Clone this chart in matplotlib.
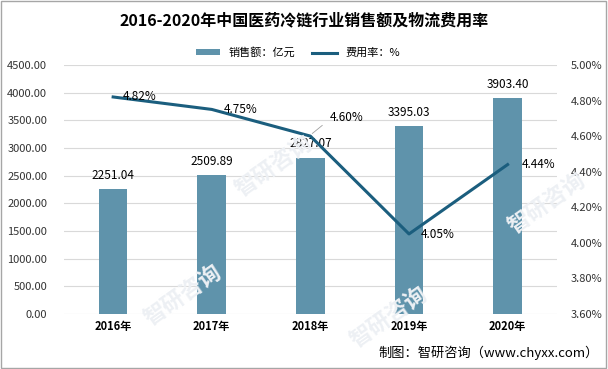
import matplotlib
matplotlib.use("Agg")
import matplotlib.pyplot as plt
from matplotlib.ticker import FuncFormatter

plt.rcParams['font.family'] = ['Noto Sans CJK SC', 'DejaVu Sans']

# datos
years = ['2016年', '2017年', '2018年', '2019年', '2020年']
sales = [2251.04, 2509.89, 2827.07, 3395.03, 3903.40]
rate = [4.82, 4.75, 4.60, 4.05, 4.44]

bar_color = '#5f93ab'
line_color = '#1b5e7e'

fig = plt.figure(figsize=(6.08, 3.69), dpi=100, facecolor='w')

# marcas de agua (tenues)
for (wx, wy) in [(0.30, 0.20), (0.45, 0.55), (0.90, 0.45), (0.64, 0.14)]:
    fig.text(wx, wy, '智研咨询', rotation=35, fontsize=16, fontweight='bold',
             color='#edf0f4', ha='center', va='center', zorder=0)

ax = fig.add_axes([0.105, 0.149, 0.811, 0.675])
ax.patch.set_alpha(0)
ax2 = ax.twinx()

x = list(range(len(years)))
ax.bar(x, sales, width=0.29, color=bar_color, label='销售额：亿元', zorder=2)
ax2.plot(x, rate, color=line_color, lw=2.2, label='费用率：%', zorder=3)

ax.set_xlim(-0.5, 4.5)
ax.set_ylim(0, 4500)
ax.set_yticks(range(0, 4501, 500))
ax.yaxis.set_major_formatter(FuncFormatter(lambda v, p: '%.2f' % v))
ax2.set_ylim(3.6, 5.0)
ax2.set_yticks([3.6, 3.8, 4.0, 4.2, 4.4, 4.6, 4.8, 5.0])
ax2.yaxis.set_major_formatter(FuncFormatter(lambda v, p: '%.2f%%' % v))

ax.grid(axis='y', color='#d9d9d9', lw=0.8, zorder=0)
ax.set_axisbelow(True)
ax.set_xticks(x)
ax.set_xticklabels(years, fontsize=8, fontweight='bold')
for a in (ax, ax2):
    for s in a.spines.values():
        s.set_visible(False)
    a.tick_params(length=0, labelsize=8, colors='#333333')
ax.tick_params(axis='y', pad=12)
ax2.tick_params(axis='y', pad=10)
ax.tick_params(axis='x', pad=4, colors='black')

# etiquetas barras
for i, v in enumerate(sales):
    ax.text(i, v + 130, '%.2f' % v, ha='center', va='bottom', fontsize=8.5)

# etiquetas linea
offs = [(0.1, 0.0), (0.12, 0.0), (0.2, 0.105), (0.12, -0.005), (0.14, 0.0)]
for i, v in enumerate(rate):
    dx, dy = offs[i]
    ax2.text(i + dx, v + dy, '%.2f%%' % v, ha='left', va='center', fontsize=8.5)
# linea guia 4.60%
ax2.plot([2.02, 2.12], [4.615, 4.66], color='#a0a0a0', lw=0.6, zorder=2)

fig.text(0.5, 0.945, '2016-2020年中国医药冷链行业销售额及物流费用率', ha='center', va='center',
         fontsize=11.5, fontweight='bold')

h1, l1 = ax.get_legend_handles_labels()
h2, l2 = ax2.get_legend_handles_labels()
fig.legend(h1 + h2, l1 + l2, loc='center', bbox_to_anchor=(0.49, 0.857), ncol=2,
           frameon=False, fontsize=8, handlelength=2.2, handleheight=0.5, columnspacing=1.5)

fig.text(0.985, 0.045, '制图：智研咨询（www.chyxx.com）', ha='right', va='center', fontsize=9.5)

border = plt.Rectangle((0.002, 0.003), 0.995, 0.994, transform=fig.transFigure,
                       fill=False, ec='#a6a6a6', lw=1)
fig.patches.append(border)

plt.savefig('out.png', dpi=100)
